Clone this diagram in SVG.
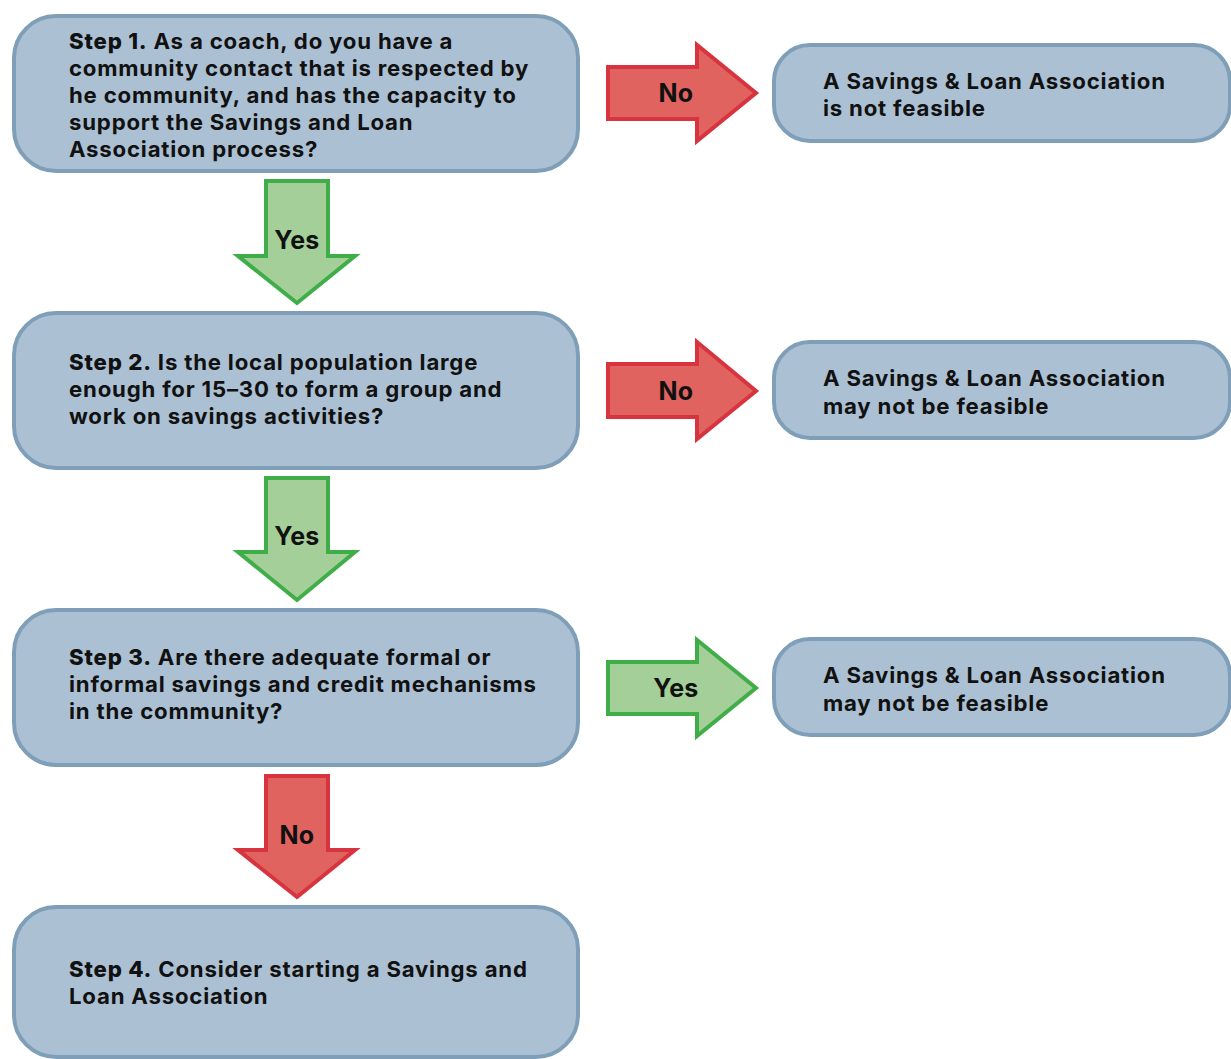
<svg xmlns="http://www.w3.org/2000/svg" width="1231" height="1059" viewBox="0 0 1231 1059">
<style>
.box{fill:#abc0d3;stroke:#7f9fb8;stroke-width:4}
.red{fill:#e06360;stroke:#d7343f;stroke-width:4;stroke-linejoin:miter}
.green{fill:#a5cf98;stroke:#3fae49;stroke-width:4;stroke-linejoin:miter}
text{font-family:Inter,Lato,sans-serif;font-size:22.2px;font-weight:650;letter-spacing:0.8px;fill:#111}
.b{font-weight:850}
.lbl{font-size:25px;font-weight:700;letter-spacing:0.3px;text-anchor:middle}
</style>
<rect width="1231" height="1059" fill="#fff"/>
<g id="step1">
<rect class="box" x="14" y="16" width="564" height="155" rx="42"/>
<text x="69" y="49"><tspan class="b">Step 1.</tspan> As a coach, do you have a</text>
<text x="69" y="76">community contact that is respected by</text>
<text x="69" y="103">he community, and has the capacity to</text>
<text x="69" y="130">support the Savings and Loan</text>
<text x="69" y="157">Association process?</text>
</g>
<g id="step2">
<rect class="box" x="14" y="313" width="564" height="155" rx="42"/>
<text x="69" y="370"><tspan class="b">Step 2.</tspan> Is the local population large</text>
<text x="69" y="397">enough for 15–30 to form a group and</text>
<text x="69" y="424">work on savings activities?</text>
</g>
<g id="step3">
<rect class="box" x="14" y="610" width="564" height="155" rx="42"/>
<text x="69" y="665"><tspan class="b">Step 3.</tspan> Are there adequate formal or</text>
<text x="69" y="692">informal savings and credit mechanisms</text>
<text x="69" y="719">in the community?</text>
</g>
<g id="step4">
<rect class="box" x="14" y="907" width="564" height="150" rx="42"/>
<text x="69" y="977"><tspan class="b">Step 4.</tspan> Consider starting a Savings and</text>
<text x="69" y="1004">Loan Association</text>
</g>
<g id="result1">
<rect class="box" x="774" y="45" width="456" height="96" rx="36"/>
<text x="823" y="89">A Savings &amp; Loan Association</text>
<text x="823" y="116">is not feasible</text>
</g>
<g id="result2">
<rect class="box" x="774" y="342" width="456" height="96" rx="36"/>
<text x="823" y="386">A Savings &amp; Loan Association</text>
<text x="823" y="414">may not be feasible</text>
</g>
<g id="result3">
<rect class="box" x="774" y="639" width="456" height="96" rx="36"/>
<text x="823" y="683">A Savings &amp; Loan Association</text>
<text x="823" y="711">may not be feasible</text>
</g>
<g id="connectors">
<polygon class="red" points="608,67 697,67 697,45 756,93 697,141 697,119 608,119"/>
<text class="lbl" x="676" y="102">No</text>
<polygon class="red" points="608,364 697,364 697,342 756,391 697,439 697,417 608,417"/>
<text class="lbl" x="676" y="400">No</text>
<polygon class="green" points="608,662 697,662 697,640 756,688 697,736 697,714 608,714"/>
<text class="lbl" x="676" y="697">Yes</text>
<polygon class="green" points="266,181 328,181 328,256 355,256 297,303 238,256 266,256"/>
<text class="lbl" x="297" y="249">Yes</text>
<polygon class="green" points="266,478 328,478 328,552 355,552 297,600 238,552 266,552"/>
<text class="lbl" x="297" y="545">Yes</text>
<polygon class="red" points="266,776 328,776 328,850 355,850 297,897 238,850 266,850"/>
<text class="lbl" x="297" y="844">No</text>
</g>
</svg>
